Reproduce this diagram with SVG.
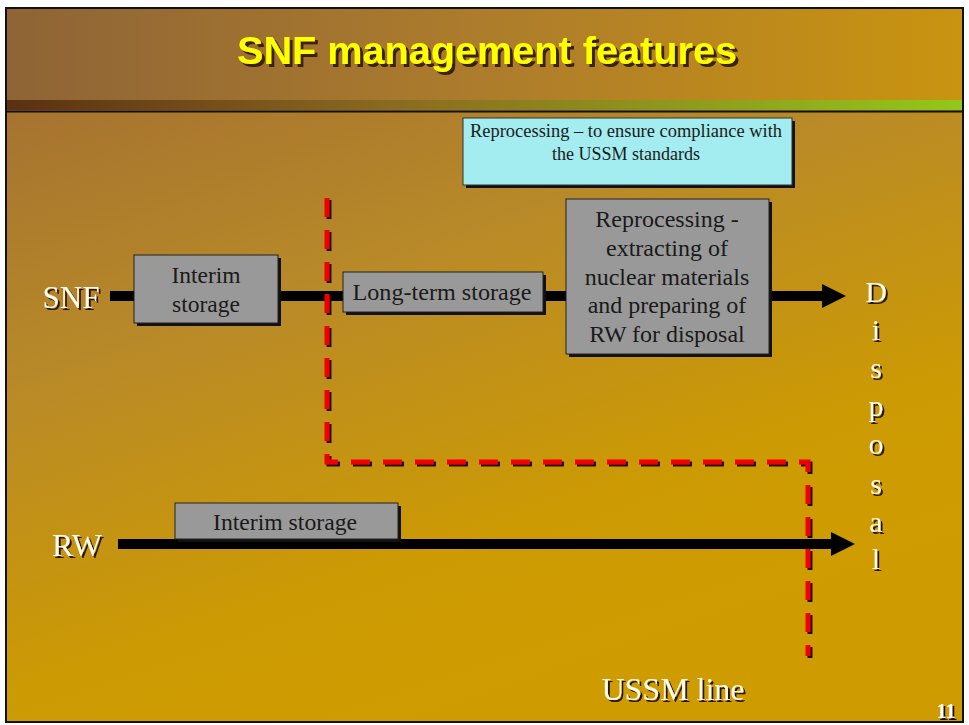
<svg xmlns="http://www.w3.org/2000/svg" width="969" height="725" viewBox="0 0 969 725">
<defs>
<linearGradient id="bg" x1="0" y1="0" x2="0.45" y2="1">
<stop offset="0" stop-color="#9e6b33"/>
<stop offset="0.45" stop-color="#b98a28"/>
<stop offset="0.8" stop-color="#cc9a03"/>
<stop offset="1" stop-color="#cf9c00"/>
</linearGradient>
<linearGradient id="tb" x1="0" y1="0" x2="1" y2="0">
<stop offset="0" stop-color="#8e6436"/>
<stop offset="0.5" stop-color="#ad7c2c"/>
<stop offset="1" stop-color="#c9940f"/>
</linearGradient>
<linearGradient id="stripe" x1="0" y1="0" x2="1" y2="0">
<stop offset="0" stop-color="#5a3012"/>
<stop offset="0.4" stop-color="#8a6a20"/>
<stop offset="1" stop-color="#92c81a"/>
</linearGradient>
<filter id="ts" x="-10%" y="-20%" width="130%" height="150%">
<feDropShadow dx="2" dy="2" stdDeviation="0.4" flood-color="#2a1800" flood-opacity="1"/>
</filter>
<filter id="tts" x="-10%" y="-20%" width="130%" height="150%">
<feDropShadow dx="3" dy="3" stdDeviation="0.5" flood-color="#3a2200" flood-opacity="1"/>
</filter>
<filter id="rs" x="-10%" y="-10%" width="130%" height="130%">
<feDropShadow dx="2" dy="2" stdDeviation="0.3" flood-color="#1a0a00" flood-opacity="1"/>
</filter>
<marker id="ah" viewBox="0 0 10 10" refX="0" refY="5" markerWidth="2.6" markerHeight="2.4" orient="auto" markerUnits="strokeWidth">
<path d="M0,0 L10,5 L0,10 Z" fill="#000"/>
</marker>
<style>
.box{fill:#999999;stroke:#222;stroke-width:1}
.shadow{fill:#111}
.bt{font-family:"Liberation Serif","Times New Roman",serif;fill:#1a1a1a;text-anchor:middle}
.wt{font-family:"Liberation Serif","Times New Roman",serif;fill:#fffbe8;text-anchor:middle;font-size:31px;filter:url(#ts)}
.flow{stroke:#000;stroke-width:10;fill:none}
.red{stroke:#f00000;stroke-width:5;fill:none;stroke-dasharray:19 13;filter:url(#rs)}
</style>
</defs>
<rect x="0" y="0" width="969" height="725" fill="#ffffff"/>
<rect x="6" y="8" width="957" height="714" fill="url(#bg)"/>
<rect x="6" y="8" width="957" height="93" fill="url(#tb)"/>
<rect x="6" y="100" width="957" height="10" fill="url(#stripe)"/>
<line x1="6" y1="111.5" x2="963" y2="111.5" stroke="#111" stroke-width="2"/>
<rect x="6" y="8" width="957" height="714" fill="none" stroke="#111" stroke-width="2"/>

<g id="title">
<text x="487" y="64" font-family="'Liberation Sans Narrow','Liberation Sans',Arial,sans-serif" font-weight="bold" font-size="38" fill="#ffff00" text-anchor="middle" textLength="500" lengthAdjust="spacingAndGlyphs" filter="url(#tts)">SNF management features</text>
</g>

<g id="connectors">
<line class="flow" x1="110" y1="296" x2="822" y2="296" marker-end="url(#ah)"/>
<line class="flow" x1="118" y1="544" x2="831" y2="544" marker-end="url(#ah)"/>
<path class="red" d="M327,198 V462 H808 V656"/>
</g>

<g id="note">
<rect x="466" y="121" width="329" height="67" class="shadow"/>
<rect x="463" y="118" width="329" height="67" fill="#a3ecf0" stroke="#333" stroke-width="1"/>
<text class="bt" x="626" y="137" font-size="18" textLength="312" lengthAdjust="spacingAndGlyphs">Reprocessing – to ensure compliance with</text>
<text class="bt" x="626" y="160" font-size="18">the USSM standards</text>
</g>

<g id="snf-label">
<text class="wt" x="71" y="308">SNF</text>
</g>

<g id="interim-snf">
<rect x="137" y="258" width="144" height="68" class="shadow"/>
<rect x="134" y="255" width="144" height="68" class="box"/>
<text class="bt" x="206" y="283" font-size="23.5">Interim</text>
<text class="bt" x="206" y="312" font-size="23.5">storage</text>
</g>

<g id="longterm">
<rect x="346" y="275" width="200" height="40" class="shadow"/>
<rect x="343" y="272" width="200" height="40" class="box"/>
<text class="bt" x="442" y="300" font-size="23.5" textLength="179" lengthAdjust="spacingAndGlyphs">Long-term storage</text>
</g>

<g id="reprocessing">
<rect x="569" y="202" width="203" height="155" class="shadow"/>
<rect x="566" y="199" width="203" height="155" class="box"/>
<text class="bt" x="667" y="227" font-size="24">Reprocessing -</text>
<text class="bt" x="667" y="256" font-size="24">extracting of</text>
<text class="bt" x="667" y="285" font-size="24">nuclear materials</text>
<text class="bt" x="667" y="313" font-size="24">and preparing of</text>
<text class="bt" x="667" y="342" font-size="24">RW for disposal</text>
</g>

<g id="disposal" class="wt" style="font-size:30px">
<text x="876" y="302">D</text><text x="876" y="340">i</text><text x="876" y="378">s</text><text x="876" y="416">p</text><text x="876" y="454">o</text><text x="876" y="494">s</text><text x="876" y="532">a</text><text x="876" y="569">l</text>
</g>

<g id="rw-label">
<text class="wt" x="77" y="556" style="font-size:32px">RW</text>
</g>

<g id="interim-rw">
<rect x="178" y="506" width="223" height="36" class="shadow"/>
<rect x="175" y="503" width="223" height="36" class="box"/>
<text class="bt" x="285" y="530" font-size="24" textLength="144" lengthAdjust="spacingAndGlyphs">Interim storage</text>
</g>

<g id="ussm-label">
<text class="wt" x="673" y="700" style="font-size:32px">USSM line</text>
</g>

<g id="page">
<text x="946" y="718" font-family="'Liberation Serif',serif" font-weight="bold" font-size="20" fill="#fff" text-anchor="middle" filter="url(#rs)">11</text>
</g>
</svg>
